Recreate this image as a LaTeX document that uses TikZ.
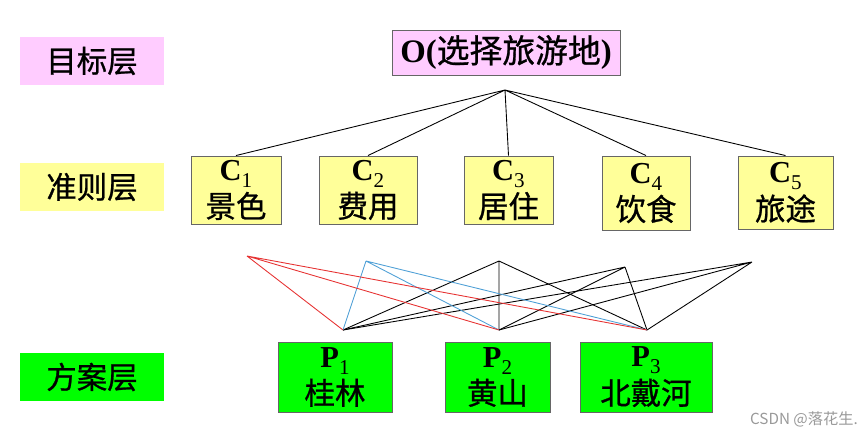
\documentclass[tikz,border=0pt]{standalone}
\usepackage{fontspec}
\setmainfont{Liberation Serif}
\newfontfamily\cjk[FakeBold=0.8]{Noto Sans CJK SC}
\newfontfamily\cjkthin{Noto Sans CJK SC}
\usetikzlibrary{positioning}
\definecolor{lpink}{HTML}{FFCCFF}
\definecolor{lyellow}{HTML}{FFFF99}
\definecolor{lgreen}{HTML}{00FF00}
\definecolor{lred}{HTML}{E63232}
\definecolor{lblue}{HTML}{4FA0D6}
\newcommand{\cn}{\cjk\fontsize{26}{30}\selectfont}
\newcommand{\lsub}[1]{\raisebox{-0.5ex}{\fontsize{18}{18}\selectfont #1}}
\newcommand{\lhead}[2]{{\fontsize{26}{28}\selectfont\textbf{#1}\lsub{#2}}}

\begin{document}
\begin{tikzpicture}[x=0.03cm, y=-0.03cm,
    layer/.style={rectangle, minimum width=4.32cm, minimum height=1.44cm, inner sep=0pt, font=\cn},
    box/.style={rectangle, draw=black!60, line width=0.8pt, inner sep=0pt, align=center, minimum height=2.04cm},
    link/.style={line width=0.75pt}]
    \useasboundingbox (0,0) rectangle (867,436);
    \node [layer, fill=lpink] (lo) at (92,61) {目标层};
    \node [layer, fill=lyellow] (lc) at (92,187) {准则层};
    \node [layer, fill=lgreen] (lp) at (92,377) {方案层};
    \node [box, fill=lpink, minimum width=6.84cm, minimum height=1.35cm] (o) at (506,52.5)
        {\fontsize{28}{30}\selectfont\textbf{O(}{\cjk 选择旅游地}\textbf{)}};
    \node [box, fill=lyellow, minimum width=2.7cm] (c1) at (236,190)
        {\lhead{C}{1}\\[3pt]{\cn 景色}};
    \node [box, fill=lyellow, minimum width=2.94cm] (c2) at (368,190)
        {\lhead{C}{2}\\[3pt]{\cn 费用}};
    \node [box, fill=lyellow, minimum width=2.67cm] (c3) at (508.5,190)
        {\lhead{C}{3}\\[3pt]{\cn 居住}};
    \node [box, fill=lyellow, minimum width=2.64cm, minimum height=2.22cm] (c4) at (646,193)
        {\lhead{C}{4}\\[3pt]{\cn 饮食}};
    \node [box, fill=lyellow, minimum width=2.85cm, minimum height=2.19cm] (c5) at (785.5,192.5)
        {\lhead{C}{5}\\[3pt]{\cn 旅途}};
    \node [box, fill=lgreen, minimum width=3.42cm, minimum height=2.1cm] (p1) at (335,377)
        {\lhead{P}{1}\\[3pt]{\cn 桂林}};
    \node [box, fill=lgreen, minimum width=3.15cm, minimum height=2.1cm] (p2) at (497.5,377)
        {\lhead{P}{2}\\[3pt]{\cn 黄山}};
    \node [box, fill=lgreen, minimum width=3.96cm, minimum height=2.1cm] (p3) at (646,377)
        {\lhead{P}{3}\\[3pt]{\cn 北戴河}};
    \coordinate (top) at (505,90);
    \draw [link] (top) -- (c1.north) (top) -- (c2.north) (top) -- (c3.north)
        (top) -- (c4.north) (top) -- (c5.north);
    \coordinate (t1) at (247,256);
    \coordinate (t2) at (366,261);
    \coordinate (t3) at (499,261);
    \coordinate (t4) at (625,267);
    \coordinate (t5) at (752,262);
    \coordinate (b1) at (343,330);
    \coordinate (b2) at (499,330);
    \coordinate (b3) at (647,330);
    \draw [link] (t3) -- (b1) (t3) -- (b2) (t3) -- (b3);
    \draw [link] (t4) -- (b1) (t4) -- (b2) (t4) -- (b3);
    \draw [link] (t5) -- (b1) (t5) -- (b2) (t5) -- (b3);
    \draw [link, lblue] (t2) -- (b1) (t2) -- (b2) (t2) -- (b3);
    \draw [link, lred] (t1) -- (b1) (t1) -- (b2) (t1) -- (b3);
    \node [font=\cjkthin\fontsize{13}{15}\selectfont, text=black!40, anchor=east, inner sep=0pt] (mark) at (858,419) {CSDN @落花生.};
\end{tikzpicture}
\end{document}
